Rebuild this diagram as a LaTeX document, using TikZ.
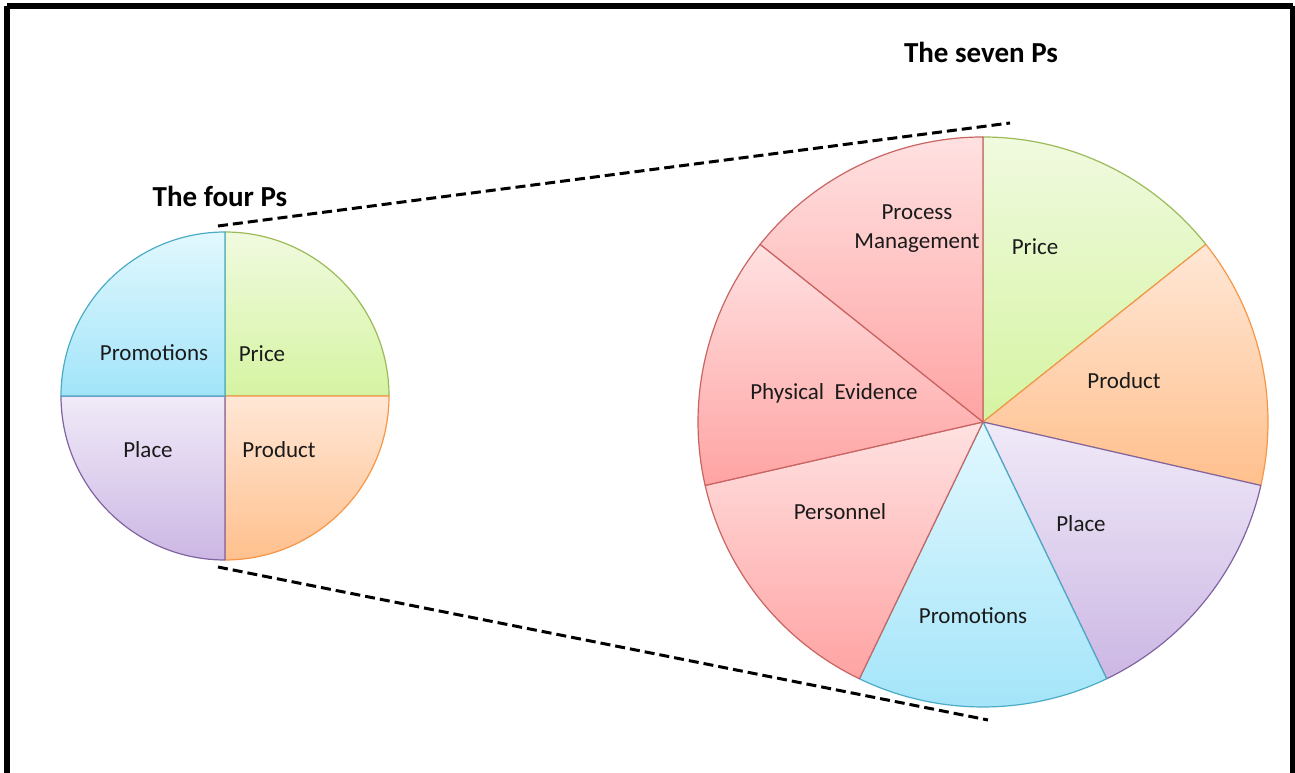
\documentclass[tikz,border=0pt]{standalone}
\usepackage{fontspec}
\setmainfont{Carlito}
\usetikzlibrary{calc}
\definecolor{pricetop}{HTML}{F0FADF}
\definecolor{pricebot}{HTML}{D5F4A2}
\definecolor{priceline}{HTML}{9BBB59}
\definecolor{prodtop}{HTML}{FFE7D6}
\definecolor{prodbot}{HTML}{FFC08D}
\definecolor{prodline}{HTML}{F79646}
\definecolor{placetop}{HTML}{F0EAF8}
\definecolor{placebot}{HTML}{CCB7E4}
\definecolor{placeline}{HTML}{8064A2}
\definecolor{promotop}{HTML}{E2F8FE}
\definecolor{promobot}{HTML}{A2E4F9}
\definecolor{promoline}{HTML}{4BACC6}
\definecolor{redtop}{HTML}{FFE1E1}
\definecolor{redbot}{HTML}{FFA3A3}
\definecolor{redline}{HTML}{C86462}
\definecolor{ink}{HTML}{1A1A1A}
\def\pieslice[#1](#2)(#3:#4:#5){\draw[#1] (#2) -- ++(#3:#5) arc (#3:#4:#5) -- cycle;}

\begin{document}
\begin{tikzpicture}[x=1pt, y=1pt, line join=round,
    label/.style={text=ink, font=\fontsize{23}{28}\selectfont, align=center},
    title/.style={text=black, font=\fontsize{29}{34}\selectfont\bfseries},
    zoomline/.style={line width=3pt, dash pattern=on 10pt off 5pt}]
			%%%%% START %%%%%
			
			\useasboundingbox (0, 0) rectangle (1295, 773);
			\draw[line width=6pt] (7, 766.5) -- (1292.5, 766.5);
			\draw[line width=6pt] (7, 766.5) -- (7, -10);
			\draw[line width=6pt] (1292.5, 766.5) -- (1292.5, -10);
			
			\coordinate (four) at (225, 377);
			\coordinate (seven) at (983, 351);
			
			% four Ps
			\pieslice[top color=pricetop, bottom color=pricebot, draw=priceline, line width=1.2pt](four)(90:0:164)
			\pieslice[top color=prodtop, bottom color=prodbot, draw=prodline, line width=1.2pt](four)(0:-90:164)
			\pieslice[top color=placetop, bottom color=placebot, draw=placeline, line width=1.2pt](four)(-90:-180:164)
			\pieslice[top color=promotop, bottom color=promobot, draw=promoline, line width=1.2pt](four)(180:90:164)
			
			\node[label] (fprice) at (262, 419) {Price};
			\node[label] (fprod) at (279, 323) {Product};
			\node[label] (fplace) at (148, 323) {Place};
			\node[label] (fpromo) at (154, 420) {Promotions};
			
			% seven Ps
			\pieslice[top color=pricetop, bottom color=pricebot, draw=priceline, line width=1.2pt](seven)(90:38.57:285)
			\pieslice[top color=prodtop, bottom color=prodbot, draw=prodline, line width=1.2pt](seven)(38.57:-12.86:285)
			\pieslice[top color=placetop, bottom color=placebot, draw=placeline, line width=1.2pt](seven)(-12.86:-64.29:285)
			\pieslice[top color=promotop, bottom color=promobot, draw=promoline, line width=1.2pt](seven)(-64.29:-115.71:285)
			\pieslice[top color=redtop, bottom color=redbot, draw=redline, line width=1.2pt](seven)(-115.71:-167.14:285)
			\pieslice[top color=redtop, bottom color=redbot, draw=redline, line width=1.2pt](seven)(192.86:141.43:285)
			\pieslice[top color=redtop, bottom color=redbot, draw=redline, line width=1.2pt](seven)(141.43:90:285)
			
			\node[label] (sprice) at (1035, 526) {Price};
			\node[label] (sprod) at (1124, 392) {Product};
			\node[label] (splace) at (1081, 249) {Place};
			\node[label] (spromo) at (973, 157) {Promotions};
			\node[label] (spers) at (840, 261) {Personnel};
			\node[label] (sphys) at (834, 380) {Physical\ \ Evidence};
			\node[label, inner sep=0pt] (sproc) at (917, 544) {Process\\[1pt]Management};
			
			% titles
			\node[title] (fourtitle) at (220, 577) {The four Ps};
			\node[title] (seventitle) at (981, 721) {The seven Ps};
			
			% zoom lines
			\coordinate (fourtop) at (218, 547);
			\coordinate (seventop) at (1010, 650);
			\coordinate (fourbot) at (218, 206);
			\coordinate (sevenbot) at (988, 53);
			\draw[zoomline] (fourtop) -- (seventop);
			\draw[zoomline] (fourbot) -- (sevenbot);
			
			%%%%% END %%%%%
		\end{tikzpicture}
\end{document}
